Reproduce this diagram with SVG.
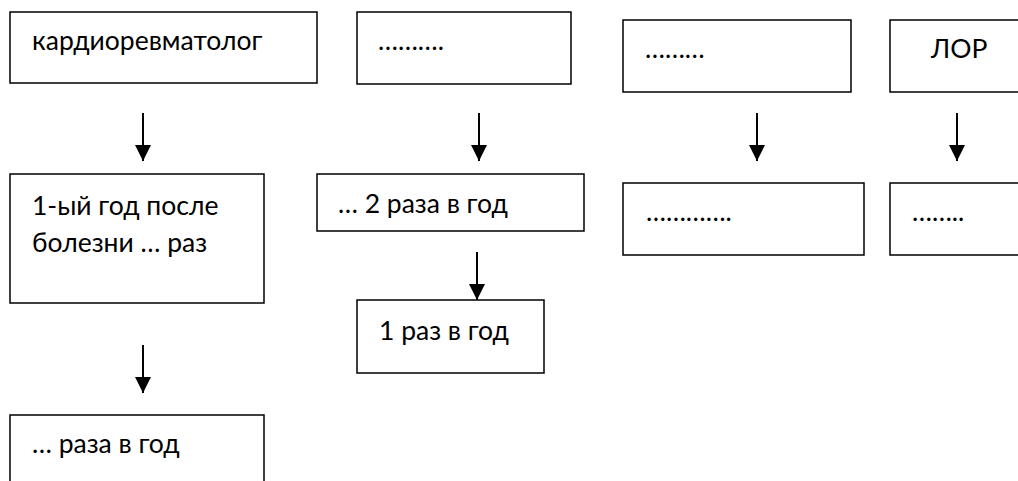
<svg xmlns="http://www.w3.org/2000/svg" width="1018" height="481" viewBox="0 0 1018 481">
<defs>
<style>
.box{fill:#fff;stroke:#000;stroke-width:1.5}
.t{font-family:Lato,"Open Sans","Liberation Sans",sans-serif;font-size:26.5px;fill:#000}
.c{stroke:#000;stroke-width:2;fill:none}
</style>
<marker id="ah" markerWidth="16" markerHeight="16" viewBox="0 0 16 16" refX="16" refY="8" orient="auto" markerUnits="userSpaceOnUse">
<path d="M0,0 L16,8 L0,16 Z" fill="#000"/>
</marker>
</defs>
<rect width="1018" height="481" fill="#fff"/>
<g id="n1"><rect class="box" x="10" y="12" width="307" height="71"/><text class="t" x="32" y="50">кардиоревматолог</text></g>
<g id="n2"><rect class="box" x="357" y="12" width="214" height="72"/><text class="t" x="378" y="50">……….</text></g>
<g id="n3"><rect class="box" x="623" y="20" width="228" height="72"/><text class="t" x="645" y="58">………</text></g>
<g id="n4"><rect class="box" x="890" y="20" width="140" height="72"/><text class="t" x="931" y="58">ЛОР</text></g>
<g id="n5"><rect class="box" x="10" y="174" width="254" height="129"/><text class="t" x="32" y="215">1-ый год после</text><text class="t" x="32" y="252">болезни … раз</text></g>
<g id="n6"><rect class="box" x="317" y="174" width="267" height="57"/><text class="t" x="338" y="213">… 2 раза в год</text></g>
<g id="n7"><rect class="box" x="357" y="300" width="187" height="73"/><text class="t" x="379" y="340">1 раз в год</text></g>
<g id="n8"><rect class="box" x="623" y="183" width="241" height="72"/><text class="t" x="646" y="221">………….</text></g>
<g id="n9"><rect class="box" x="890" y="183" width="140" height="72"/><text class="t" x="912" y="221">……..</text></g>
<g id="n10"><rect class="box" x="10" y="415" width="254" height="80"/><text class="t" x="32" y="453">… раза в год</text></g>
<g id="connectors">
<line class="c" x1="143" y1="113" x2="143" y2="161" marker-end="url(#ah)"/>
<line class="c" x1="479" y1="113" x2="479" y2="161" marker-end="url(#ah)"/>
<line class="c" x1="757" y1="113" x2="757" y2="161" marker-end="url(#ah)"/>
<line class="c" x1="957" y1="113" x2="957" y2="161" marker-end="url(#ah)"/>
<line class="c" x1="477" y1="252" x2="477" y2="300" marker-end="url(#ah)"/>
<line class="c" x1="143" y1="345" x2="143" y2="393" marker-end="url(#ah)"/>
</g>
</svg>
